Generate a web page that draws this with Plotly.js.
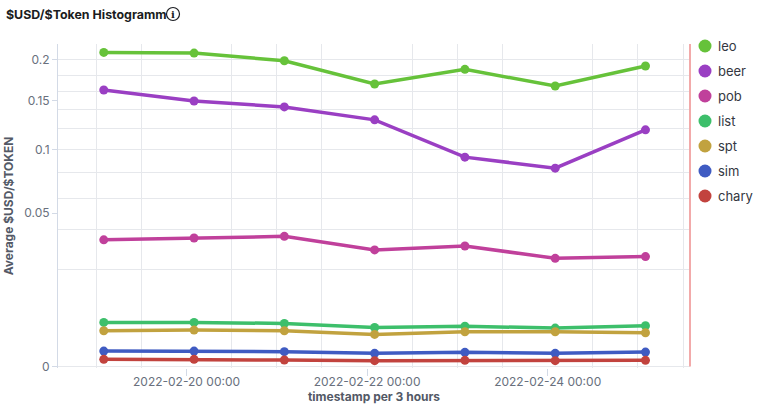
<!DOCTYPE html>
<html>
<head>
<meta charset="utf-8">
<script src="https://cdn.plot.ly/plotly-3.0.1.min.js"></script>
<style>html,body{margin:0;padding:0;background:#fff;}#chart{width:768px;height:409px;}</style>
</head>
<body>
<div id="chart"></div>
<script>
// ---- data ----
const timestamps = ["2022-02-19 02:00","2022-02-20 02:00","2022-02-21 02:00","2022-02-22 02:00","2022-02-23 02:00","2022-02-24 02:00","2022-02-25 02:00"];
const seriesNames = ["leo","beer","pob","list","spt","sim","chary"];
const leo   = [0.2091,0.2082,0.1982,0.1692,0.1872,0.1668,0.1914];
const beer  = [0.1621,0.1495,0.1429,0.1290,0.0930,0.0835,0.1188];
const pob   = [0.0341,0.0351,0.0360,0.0289,0.0309,0.0249,0.0257];
const list  = [0.00417,0.00417,0.00398,0.00328,0.00350,0.00317,0.00357];
const spt   = [0.00276,0.00285,0.00276,0.00222,0.00261,0.00261,0.00246];
const sim   = [0.000526,0.000526,0.000486,0.000384,0.000443,0.000384,0.000461];
const chary = [0.000118,0.000118,0.0000974,0.000081,0.0000889,0.000081,0.0000889];
const seriesValues = [leo,beer,pob,list,spt,sim,chary];
const colors = ["#66c23a","#9a3fc3","#c0409b","#3dbf6b","#c1a23f","#3f5bc2","#c2433e"];
const yLabelTicks = [0,0.05,0.1,0.15,0.2];
const yGridTicks = [0,0.02,0.04,0.06,0.08,0.1,0.12,0.14,0.16,0.18,0.2,0.22];

// sqrt scale helper
const sq = v => Math.sqrt(v);

const traces = seriesValues.map((vals,i)=>({
  type:'scatter', mode:'lines+markers', name:seriesNames[i],
  x:timestamps, y:vals.map(sq), customdata:vals,
  line:{color:colors[i], width:3.5},
  marker:{color:colors[i], size:9},
  showlegend:false,
  hovertemplate:'%{customdata}<extra>'+seriesNames[i]+'</extra>'
}));

const font = "Inter, 'Noto Sans', sans-serif";
const PH = 409-44-41, PW = 768-58-78;
const px2x = x => (x-58)/PW;
const px2y = y => (409-41-y)/PH;
const shapes = [
  {type:'line', xref:'paper', yref:'paper', x0:1, x1:1, y0:0.005, y1:1, line:{color:'#f2aaaa', width:2}},
  {type:'circle', xref:'paper', yref:'paper', xsizemode:'pixel', ysizemode:'pixel',
   xanchor:px2x(173), yanchor:px2y(14), x0:-6.5, x1:6.5, y0:-6.5, y1:6.5,
   line:{color:'#1a1c21', width:1.2}, fillcolor:'rgba(0,0,0,0)'}
];
const annotations = [
  {xref:'paper', yref:'paper', x:px2x(4), y:px2y(14), xanchor:'left', yanchor:'middle', showarrow:false,
   text:'<b>$USD/$Token Histogramm</b>', font:{family:font, size:12.4, color:'#1a1c21'}},
  {xref:'paper', yref:'paper', x:px2x(173), y:px2y(14.5), xanchor:'center', yanchor:'middle', showarrow:false,
   text:'<b>i</b>', font:{family:"'DejaVu Serif', serif", size:10, color:'#1a1c21'}}
];
// legend drawn as circles + labels
seriesNames.forEach((n,i)=>{
  const yp = px2y(46 + 25*i);
  shapes.push({type:'circle', xref:'paper', yref:'paper', xsizemode:'pixel', ysizemode:'pixel',
    xanchor:px2x(705), yanchor:yp, x0:-6.5, x1:6.5, y0:-6.5, y1:6.5,
    fillcolor:colors[i], line:{width:0}});
  annotations.push({xref:'paper', yref:'paper', x:px2x(716), y:yp, xanchor:'left', yanchor:'middle',
    showarrow:false, text:n, font:{family:font, size:13, color:'#343741'}});
});

const layout = {
  width:768, height:409,
  margin:{l:58, r:78, t:44, b:41},
  paper_bgcolor:'#fff', plot_bgcolor:'#fff',
  font:{family:font, size:12, color:'#69707d'},
  showlegend:false,
  xaxis:{
    type:'date', range:['2022-02-18 13:50','2022-02-25 13:50'],
    tickmode:'linear', tick0:'2022-02-20', dtick:172800000,
    tickformat:'%Y-%m-%d %H:%M',
    ticks:'outside', ticklen:7, tickcolor:'#d3dae6',
    ticklabelstandoff:-4,
    showgrid:false, zeroline:false, showline:false,
    tickfont:{family:font, size:12, color:'#69707d'},
    minor:{tick0:'2022-02-19', dtick:43200000, showgrid:true, gridcolor:'#e6e8ec', gridwidth:1, ticks:''},
    title:{text:'<b>timestamp per 3 hours</b>', font:{family:font, size:12, color:'#535966'}, standoff:2}
  },
  yaxis:{
    range:[-0.0017, 0.4695],
    tickmode:'array', tickvals:yLabelTicks.map(sq), ticktext:yLabelTicks.map(String),
    ticks:'outside', ticklen:5, tickcolor:'#d3dae6',
    showgrid:false, zeroline:false,
    showline:true, linecolor:'#d3dae6', linewidth:1,
    tickfont:{family:font, size:12, color:'#69707d'},
    minor:{tickmode:'array', tickvals:yGridTicks.map(sq), showgrid:true, gridcolor:'#e6e8ec', gridwidth:1, ticks:''},
    title:{text:'<b>Average $USD/$TOKEN</b>', font:{family:font, size:12, color:'#535966'}, standoff:8}
  },
  shapes:shapes,
  annotations:annotations
};

Plotly.newPlot('chart', traces, layout, {displayModeBar:false, staticPlot:true});
</script>
</body>
</html>
